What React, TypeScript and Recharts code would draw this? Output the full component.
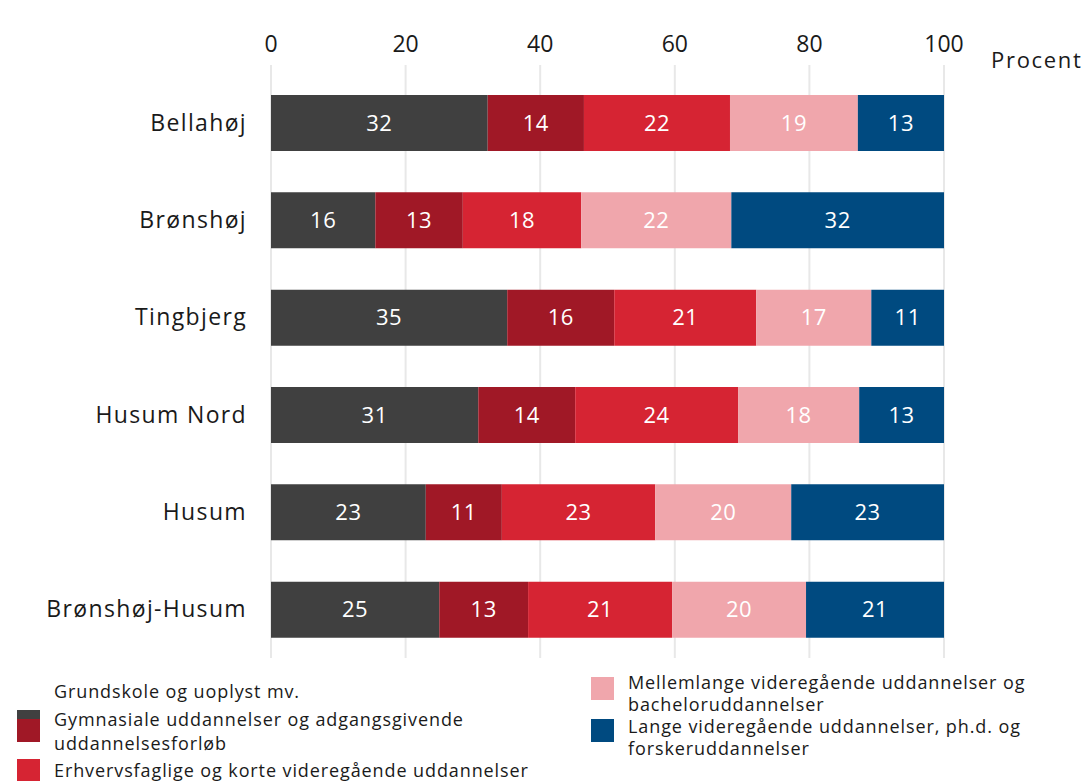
import React from 'react';
import { BarChart, Bar, XAxis, YAxis, CartesianGrid, LabelList } from 'recharts';

const categories = ['Bellahøj', 'Brønshøj', 'Tingbjerg', 'Husum Nord', 'Husum', 'Brønshøj-Husum'];
const grundskole = [32.2, 15.5, 35.1, 30.8, 23.0, 25.0];
const gymnasiale = [14.3, 13.0, 15.9, 14.4, 11.3, 13.2];
const erhverv = [21.7, 17.6, 21.1, 24.2, 22.8, 21.4];
const mellemlange = [19.0, 22.3, 17.1, 18.0, 20.2, 19.9];
const lange = [12.8, 31.6, 10.8, 12.6, 22.7, 20.5];
const xTicks = [0, 20, 40, 60, 80, 100];

const seriesNames = [
  'Grundskole og uoplyst mv.',
  'Gymnasiale uddannelser og adgangsgivende uddannelsesforløb',
  'Erhvervsfaglige og korte videregående uddannelser',
  'Mellemlange videregående uddannelser og bacheloruddannelser',
  'Lange videregående uddannelser, ph.d. og forskeruddannelser',
];
const seriesKeys = ['s0', 's1', 's2', 's3', 's4'];
const seriesColors = ['#404040', '#a01826', '#d62433', '#f0a6ac', '#004a80'];

const data = categories.map((name, i) => ({
  name,
  s0: grundskole[i],
  s1: gymnasiale[i],
  s2: erhverv[i],
  s3: mellemlange[i],
  s4: lange[i],
}));

const FONT = '"Open Sans", sans-serif';

const GridLine = (props: any) => {
  const { x1, x2, y1, y2, key } = props;
  return <line key={key} x1={x1} x2={x2} y1={y1 - 9} y2={y2} stroke="#e8e8e8" strokeWidth={2} />;
};

const legendText: React.CSSProperties = {
  position: 'absolute',
  fontFamily: FONT,
  fontSize: 18,
  letterSpacing: 0.9,
  color: '#1a1a1a',
  whiteSpace: 'nowrap',
  lineHeight: '16px',
};

const sq = (color: string, left: number, top: number): React.CSSProperties => ({
  position: 'absolute',
  left,
  top,
  width: 23,
  height: 23,
  background: color,
});

const line = (text: string, left: number, centerY: number) => (
  <div style={{ ...legendText, left, top: centerY - 8 }}>{text}</div>
);

export default function App() {
  return (
    <div style={{ position: 'absolute', left: 0, top: 0, width: 1089, height: 781, background: '#fff', overflow: 'hidden' }}>
      <BarChart
        width={1089}
        height={670}
        data={data}
        layout="vertical"
        margin={{ top: 44, right: 145, bottom: 12, left: 0 }}
        barSize={56}
      >
        <CartesianGrid horizontal={false} vertical={GridLine as any} />
        <XAxis
          type="number"
          orientation="top"
          domain={[0, 100]}
          ticks={xTicks}
          axisLine={false}
          tickLine={false}
          tickSize={0}
          tickMargin={22}
          height={30}
          tick={{ fontFamily: FONT, fontSize: 23, fill: '#1a1a1a' }}
        />
        <YAxis
          type="category"
          dataKey="name"
          width={271}
          axisLine={false}
          tickLine={false}
          tickSize={0}
          tickMargin={24}
          tick={{ fontFamily: FONT, fontSize: 23, fill: '#1a1a1a', letterSpacing: 1.35 } as any}
        />
        {seriesKeys.map((k, i) => (
          <Bar key={k} dataKey={k} name={seriesNames[i]} stackId="a" fill={seriesColors[i]} isAnimationActive={false}>
            <LabelList
              dataKey={k}
              position="center"
              formatter={(v: any) => Math.round(Number(v))}
              style={{ fontFamily: FONT, fontSize: 22, fill: '#ffffff', letterSpacing: 0.5 }}
            />
          </Bar>
        ))}
      </BarChart>

      <div style={{ ...legendText, fontSize: 22, letterSpacing: 1.7, left: 991, top: 44, lineHeight: '30px' }}>Procent</div>

      <div style={sq(seriesColors[0], 17, 710)} />
      <div style={sq(seriesColors[1], 17, 719)} />
      <div style={sq(seriesColors[2], 17, 759)} />
      {line(seriesNames[0], 54, 691)}
      {line('Gymnasiale uddannelser og adgangsgivende', 54, 719)}
      {line('uddannelsesforløb', 54, 743)}
      {line(seriesNames[2], 54, 770)}

      <div style={sq(seriesColors[3], 591, 677)} />
      <div style={sq(seriesColors[4], 591, 719)} />
      {line('Mellemlange videregående uddannelser og', 628, 682)}
      {line('bacheloruddannelser', 628, 704)}
      {line('Lange videregående uddannelser, ph.d. og', 628, 726)}
      {line('forskeruddannelser', 628, 748)}
    </div>
  );
}
